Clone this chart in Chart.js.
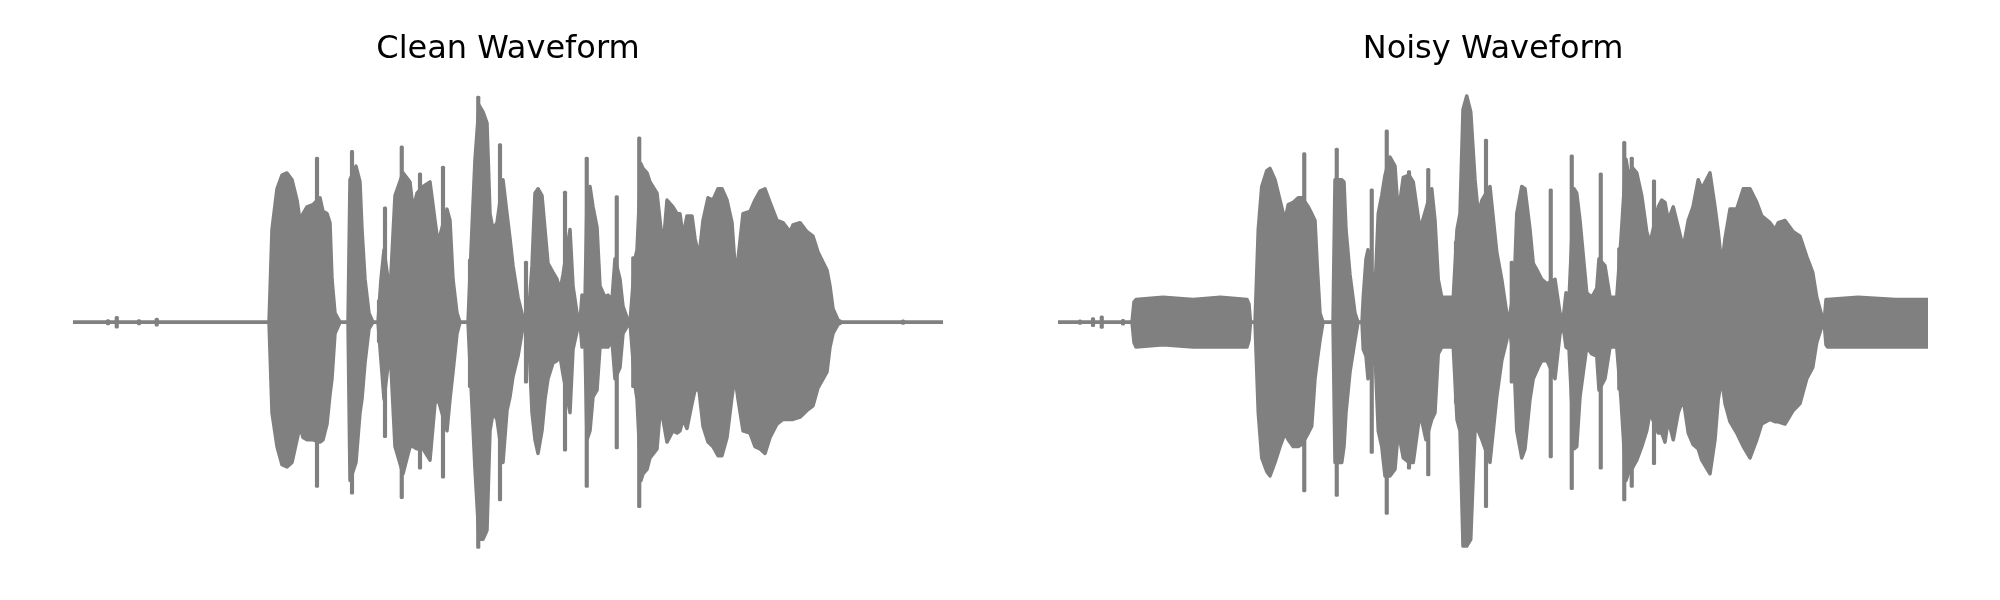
<!DOCTYPE html>
<html>
<head>
<meta charset="utf-8">
<script src="https://cdn.jsdelivr.net/npm/chart.js@4.4.0/dist/chart.umd.min.js"></script>
<style>
  body { margin: 0; background: #fff; }
  #wrap { display: flex; width: 2000px; height: 600px; }
  canvas { display: block; }
</style>
</head>
<body>
<div id="wrap">
  <canvas id="clean" width="1000" height="600"></canvas>
  <canvas id="noisy" width="1000" height="600"></canvas>
</div>
<script>
// time in seconds, amplitude normalised to the loudest peak
const cleanTime = [0, 0.784, 0.796, 0.816, 0.836, 0.856, 0.876, 0.896, 0.908, 0.920, 0.936, 0.960, 0.988, 1.000, 1.016, 1.028, 1.036, 1.048, 1.068, 1.100,
  1.108, 1.132, 1.148, 1.156, 1.168, 1.184, 1.200, 1.220, 1.232, 1.244, 1.260, 1.268, 1.288, 1.320, 1.348, 1.360, 1.376, 1.400, 1.428, 1.448,
  1.460, 1.496, 1.508, 1.520, 1.536, 1.548, 1.580, 1.596, 1.608, 1.624, 1.640, 1.656, 1.668, 1.680, 1.696, 1.720, 1.736, 1.748, 1.760, 1.780,
  1.800, 1.820, 1.836, 1.848, 1.860, 1.876, 1.888, 1.900, 1.920, 1.936, 1.948, 1.960, 1.988, 2.000, 2.016, 2.028, 2.036, 2.048, 2.056, 2.068,
  2.080, 2.096, 2.108, 2.128, 2.140, 2.156, 2.168, 2.188, 2.200, 2.216, 2.228, 2.248, 2.256, 2.272, 2.280, 2.296, 2.308, 2.336, 2.348, 2.360,
  2.376, 2.400, 2.416, 2.428, 2.440, 2.456, 2.476, 2.488, 2.504, 2.520, 2.540, 2.560, 2.580, 2.596, 2.616, 2.636, 2.648, 2.660, 2.680, 2.708,
  2.728, 2.748, 2.768, 2.788, 2.816, 2.840, 2.868, 2.880, 2.908, 2.936, 2.960, 2.980, 3.016, 3.028, 3.040, 3.060, 3.076, 3.480];
const cleanUpper = [0, 0, 0.41, 0.59, 0.65, 0.66, 0.63, 0.54, 0.45, 0.48, 0.51, 0.52, 0.55, 0.49, 0.48, 0.44, 0.19, 0.04, 0, 0,
  0.63, 0.69, 0.62, 0.41, 0.19, 0.04, 0, 0, 0.19, 0.32, 0.19, 0.13, 0.56, 0.66, 0.62, 0.50, 0.57, 0.60, 0.62, 0.45,
  0.35, 0.50, 0.45, 0.19, 0.04, 0, 0, 0.42, 0.72, 0.96, 0.93, 0.88, 0.48, 0.41, 0.44, 0.63, 0.48, 0.37, 0.25, 0.11,
  0.02, 0, 0.25, 0.57, 0.59, 0.56, 0.41, 0.26, 0.22, 0.19, 0.14, 0.21, 0.41, 0.16, 0.04, 0, 0.12, 0.10, 0.54, 0.60,
  0.51, 0.42, 0.16, 0.11, 0.12, 0.10, 0.28, 0.19, 0.07, 0.02, 0, 0.28, 0.32, 0.70, 0.68, 0.66, 0.62, 0.57, 0.45, 0.33,
  0.54, 0.51, 0.48, 0.48, 0.38, 0.47, 0.47, 0.37, 0.29, 0.45, 0.55, 0.54, 0.59, 0.59, 0.54, 0.44, 0.25, 0.28, 0.48, 0.49,
  0.54, 0.58, 0.59, 0.53, 0.45, 0.44, 0.40, 0.43, 0.44, 0.40, 0.38, 0.31, 0.23, 0.16, 0.06, 0.01, 0, 0];
const cleanLower = [0, 0, -0.40, -0.55, -0.63, -0.64, -0.62, -0.52, -0.46, -0.51, -0.52, -0.52, -0.53, -0.52, -0.45, -0.32, -0.25, -0.05, 0, 0,
  -0.70, -0.62, -0.40, -0.34, -0.18, -0.03, 0, 0, -0.17, -0.34, -0.19, -0.11, -0.55, -0.67, -0.55, -0.55, -0.56, -0.56, -0.61, -0.36,
  -0.34, -0.48, -0.34, -0.22, -0.05, 0, 0, -0.37, -0.65, -0.96, -0.96, -0.92, -0.48, -0.40, -0.43, -0.62, -0.39, -0.33, -0.24, -0.15,
  -0.02, 0, -0.40, -0.52, -0.58, -0.48, -0.34, -0.25, -0.18, -0.17, -0.15, -0.23, -0.40, -0.12, -0.04, 0, -0.11, -0.10, -0.52, -0.48,
  -0.33, -0.30, -0.11, -0.11, -0.11, -0.08, -0.25, -0.20, -0.05, -0.02, 0, -0.28, -0.34, -0.70, -0.67, -0.65, -0.60, -0.56, -0.40, -0.43,
  -0.53, -0.48, -0.49, -0.48, -0.43, -0.47, -0.36, -0.30, -0.30, -0.46, -0.53, -0.55, -0.59, -0.59, -0.51, -0.33, -0.24, -0.34, -0.48, -0.49,
  -0.55, -0.56, -0.58, -0.51, -0.45, -0.43, -0.43, -0.43, -0.42, -0.39, -0.37, -0.29, -0.22, -0.11, -0.05, -0.01, 0, 0];

// narrow single peaks
const cleanSpikeTime = [0.140, 0.175, 0.264, 0.335, 0.976, 1.116, 1.224, 1.248, 1.315, 1.388, 1.480, 1.588, 1.621, 1.708, 1.812, 1.968, 2.055, 2.175, 2.241, 2.265, 3.320];
const cleanSpikeUpper = [0.012, 0.026, 0.012, 0.018, 0.73, 0.76, 0.10, 0.51, 0.78, 0.66, 0.69, 0.28, 1.00, 0.79, 0.27, 0.58, 0.73, 0.56, 0.29, 0.82, 0.01];
const cleanSpikeLower = [-0.012, -0.026, -0.012, -0.018, -0.73, -0.76, -0.09, -0.51, -0.78, -0.65, -0.69, -0.29, -1.00, -0.79, -0.27, -0.57, -0.73, -0.56, -0.29, -0.82, -0.01];

const noisyTime = [0, 0.296, 0.304, 0.312, 0.420, 0.540, 0.650, 0.756, 0.764, 0.770, 0.788, 0.801, 0.815, 0.835, 0.848, 0.868, 0.888, 0.908, 0.921, 0.941,
  0.961, 0.976, 1.001, 1.015, 1.028, 1.037, 1.048, 1.060, 1.100, 1.108, 1.135, 1.144, 1.152, 1.168, 1.188, 1.200, 1.216, 1.221, 1.232, 1.240,
  1.268, 1.281, 1.295, 1.308, 1.328, 1.348, 1.361, 1.381, 1.404, 1.421, 1.448, 1.472, 1.495, 1.508, 1.521, 1.535, 1.581, 1.596, 1.608, 1.620,
  1.635, 1.651, 1.668, 1.681, 1.696, 1.728, 1.755, 1.775, 1.795, 1.805, 1.824, 1.835, 1.855, 1.868, 1.888, 1.901, 1.921, 1.935, 1.956, 1.988,
  2.008, 2.021, 2.032, 2.044, 2.064, 2.075, 2.088, 2.115, 2.135, 2.155, 2.164, 2.188, 2.208, 2.235, 2.252, 2.272, 2.281, 2.300, 2.315, 2.335,
  2.355, 2.368, 2.401, 2.415, 2.428, 2.441, 2.461, 2.481, 2.501, 2.521, 2.540, 2.561, 2.575, 2.608, 2.628, 2.641, 2.655, 2.668, 2.688, 2.715,
  2.741, 2.768, 2.795, 2.815, 2.848, 2.868, 2.881, 2.908, 2.941, 2.968, 2.995, 3.019, 3.035, 3.055, 3.066, 3.072, 3.078, 3.200, 3.350, 3.480];
const noisyUpper = [0, 0, 0.09, 0.10, 0.11, 0.10, 0.11, 0.10, 0.08, 0, 0, 0.41, 0.60, 0.67, 0.68, 0.63, 0.54, 0.45, 0.52, 0.53,
  0.55, 0.55, 0.51, 0.48, 0.45, 0.25, 0.04, 0, 0, 0.63, 0.63, 0.62, 0.41, 0.21, 0.04, 0, 0, 0.11, 0.28, 0.32,
  0.14, 0.48, 0.56, 0.65, 0.73, 0.69, 0.48, 0.64, 0.65, 0.62, 0.41, 0.50, 0.59, 0.45, 0.19, 0.11, 0.11, 0.41, 0.48, 0.94,
  1.00, 0.93, 0.63, 0.48, 0.54, 0.60, 0.31, 0.19, 0.04, 0.02, 0.14, 0.48, 0.60, 0.59, 0.41, 0.26, 0.22, 0.19, 0.17, 0.19,
  0.04, 0.02, 0.13, 0.10, 0.59, 0.57, 0.45, 0.13, 0.11, 0.15, 0.28, 0.25, 0.11, 0.11, 0.37, 0.72, 0.66, 0.68, 0.66, 0.56,
  0.40, 0.35, 0.51, 0.54, 0.53, 0.45, 0.51, 0.42, 0.33, 0.45, 0.51, 0.63, 0.59, 0.66, 0.51, 0.40, 0.25, 0.37, 0.50, 0.50,
  0.59, 0.59, 0.53, 0.47, 0.44, 0.41, 0.44, 0.45, 0.40, 0.38, 0.29, 0.22, 0.11, 0.03, 0.02, 0.10, 0.10, 0.11, 0.10, 0.10];
const noisyLower = [0, 0, -0.09, -0.11, -0.10, -0.11, -0.11, -0.11, -0.08, 0, 0, -0.40, -0.60, -0.66, -0.68, -0.62, -0.55, -0.49, -0.52, -0.55,
  -0.55, -0.54, -0.49, -0.46, -0.25, -0.17, -0.08, 0, 0, -0.62, -0.62, -0.55, -0.40, -0.22, -0.08, 0, 0, -0.12, -0.15, -0.25,
  -0.14, -0.48, -0.55, -0.68, -0.68, -0.65, -0.48, -0.60, -0.62, -0.62, -0.40, -0.52, -0.43, -0.40, -0.14, -0.11, -0.11, -0.43, -0.48, -0.99,
  -0.99, -0.96, -0.48, -0.48, -0.52, -0.62, -0.33, -0.17, -0.08, -0.02, -0.17, -0.48, -0.60, -0.56, -0.34, -0.25, -0.20, -0.17, -0.17, -0.25,
  -0.05, -0.02, -0.11, -0.12, -0.56, -0.55, -0.33, -0.11, -0.14, -0.15, -0.30, -0.25, -0.11, -0.11, -0.34, -0.70, -0.67, -0.64, -0.61, -0.55,
  -0.48, -0.40, -0.49, -0.49, -0.53, -0.43, -0.52, -0.40, -0.34, -0.49, -0.54, -0.56, -0.61, -0.67, -0.52, -0.34, -0.25, -0.36, -0.44, -0.49,
  -0.55, -0.60, -0.52, -0.45, -0.43, -0.44, -0.44, -0.45, -0.39, -0.36, -0.25, -0.20, -0.09, -0.02, -0.02, -0.10, -0.11, -0.11, -0.11, -0.11];

const noisySpikeTime = [0.088, 0.140, 0.175, 0.260, 0.985, 1.115, 1.255, 1.315, 1.404, 1.481, 1.592, 1.712, 1.815, 1.971, 2.055, 2.171, 2.245, 2.265, 2.295, 2.384];
const noisySpikeUpper = [0.01, 0.02, 0.028, 0.013, 0.75, 0.77, 0.59, 0.85, 0.67, 0.68, 0.36, 0.81, 0.27, 0.59, 0.74, 0.66, 0.33, 0.80, 0.73, 0.63];
const noisySpikeLower = [-0.01, -0.02, -0.028, -0.013, -0.75, -0.77, -0.58, -0.85, -0.65, -0.68, -0.36, -0.82, -0.27, -0.60, -0.74, -0.65, -0.30, -0.79, -0.73, -0.63];

const GRAY = '#808080';
Chart.defaults.font.family = "'DejaVu Sans', sans-serif";

function drawWaveform(id, title, time, upper, lower, spikeTime, spikeUpper, spikeLower, padLeft, padRight) {
    const ctx = document.getElementById(id).getContext('2d');
    return new Chart(ctx, {
        type: 'line',
        data: {
            datasets: [{
                data: time.map((t, i) => ({ x: t, y: upper[i] })), // top of the envelope
                borderColor: GRAY,
                backgroundColor: GRAY,
                borderWidth: 3.5,
                borderJoinStyle: 'round',
                borderCapStyle: 'round',
                pointRadius: 0,
                fill: '+1' // fill down to the lower envelope
            }, {
                data: time.map((t, i) => ({ x: t, y: lower[i] })),
                borderColor: GRAY,
                borderWidth: 3.5,
                borderJoinStyle: 'round',
                borderCapStyle: 'round',
                pointRadius: 0,
                fill: false
            }, {
                type: 'bar',
                data: spikeTime.map((t, i) => ({ x: t, y: [spikeLower[i], spikeUpper[i]] })),
                backgroundColor: GRAY,
                borderWidth: 0,
                borderRadius: 1.5,
                borderSkipped: false,
                barThickness: 3.5
            }]
        },
        options: {
            responsive: false,
            animation: false,
            layout: { padding: { left: padLeft, right: padRight, top: 0, bottom: 29 } },
            plugins: {
                legend: { display: false },
                tooltip: { enabled: false },
                title: {
                    display: true,
                    text: title,
                    color: '#000',
                    font: { size: 32, weight: 'normal' },
                    padding: { top: 30, bottom: 5 }
                }
            },
            scales: {
                x: { type: 'linear', display: false, min: 0, max: 3.48, offset: false },
                y: { display: false, min: -1.1, max: 1.1 }
            }
        }
    });
}

drawWaveform('clean', 'Clean Waveform', cleanTime, cleanUpper, cleanLower, cleanSpikeTime, cleanSpikeUpper, cleanSpikeLower, 73, 57);
drawWaveform('noisy', 'Noisy Waveform', noisyTime, noisyUpper, noisyLower, noisySpikeTime, noisySpikeUpper, noisySpikeLower, 58, 72);
</script>
</body>
</html>
